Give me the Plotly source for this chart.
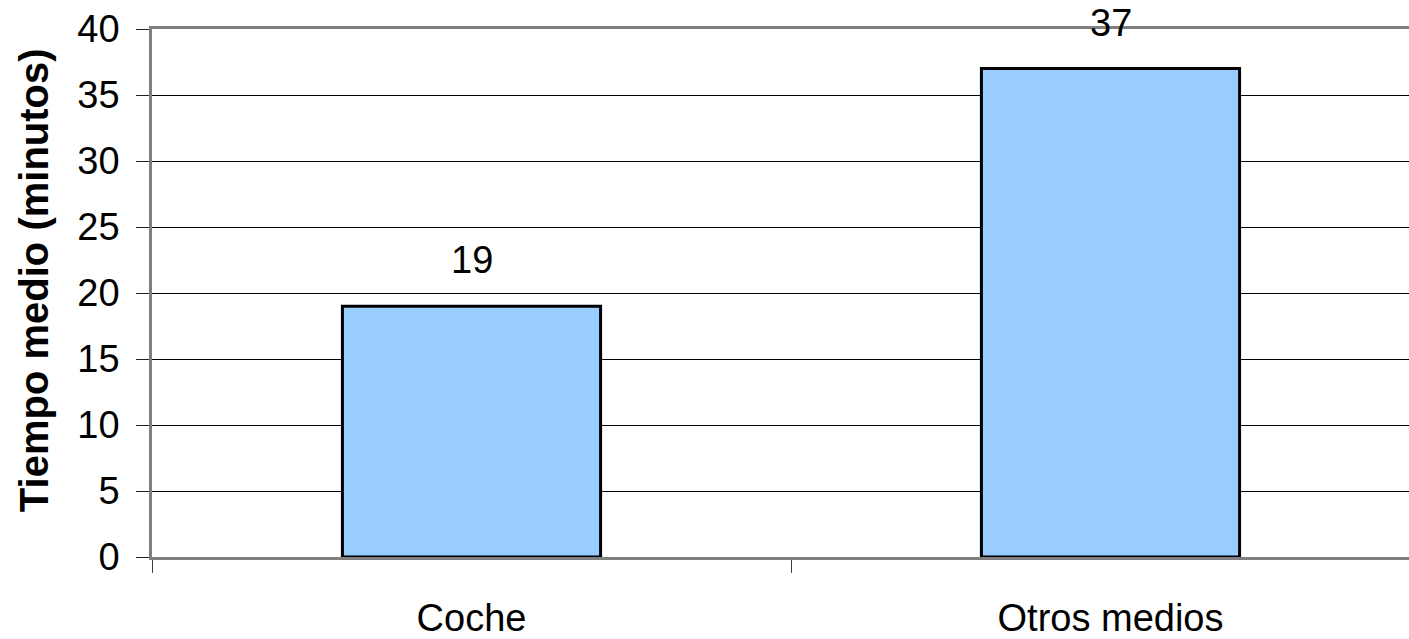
import plotly.graph_objects as go

categories = ["Coche", "Otros medios"]
values = [19, 37]
y_ticks = [0, 5, 10, 15, 20, 25, 30, 35, 40]
y_title = "Tiempo medio (minutos)"

FONT = "Liberation Sans, Arial, sans-serif"

fig = go.Figure()
fig.add_trace(go.Bar(
    x=[0, 1],
    y=values,
    width=0.404,
    marker=dict(color="#99CCFF", line=dict(color="black", width=3)),
    hoverinfo="skip",
))

for i, v in enumerate(values):
    fig.add_annotation(x=i, y=v, xref="x", yref="y", text=str(v),
                       showarrow=False, yshift=46, yanchor="middle",
                       font=dict(family=FONT, size=38, color="black"))

fig.add_annotation(x=(34 - 152) / 1257, y=(639 - 76 - 283) / 534, xref="paper", yref="paper",
                   text="<b>" + y_title + "</b>", textangle=-90, showarrow=False,
                   xanchor="center", yanchor="middle",
                   font=dict(family=FONT, size=40, color="black"))

fig.update_layout(
    width=1409, height=639,
    margin=dict(l=152, r=0, t=29, b=76),
    paper_bgcolor="white", plot_bgcolor="white",
    showlegend=False,
    font=dict(family=FONT, size=38, color="black"),
)

fig.update_xaxes(
    type="linear",
    range=[-0.5, (1409 - 152) / 639 - 0.5],
    tickmode="array", tickvals=[0, 1], ticktext=categories,
    showgrid=False, zeroline=False,
    showline=True, linecolor="#808080", linewidth=2.5, mirror=True,
    ticks="", ticklabelstandoff=26,
    tickfont=dict(family=FONT, size=38, color="black"),
    minor=dict(tickmode="array", tickvals=[-0.5, 0.5, 1.5], ticks="outside",
               ticklen=13, tickcolor="#404040", tickwidth=1, showgrid=False),
)

fig.update_yaxes(
    range=[0, 40],
    tickmode="array", tickvals=y_ticks,
    showgrid=True, gridcolor="black", gridwidth=1,
    zeroline=False,
    showline=True, linecolor="#808080", linewidth=2.5,
    ticks="outside", ticklen=13, tickcolor="#202020", tickwidth=1,
    ticklabelstandoff=9,
    tickfont=dict(family=FONT, size=38, color="black"),
)

fig.write_html("out.html", config={"displayModeBar": False},
               post_script="document.body.style.margin='0';document.body.style.overflow='hidden';")
